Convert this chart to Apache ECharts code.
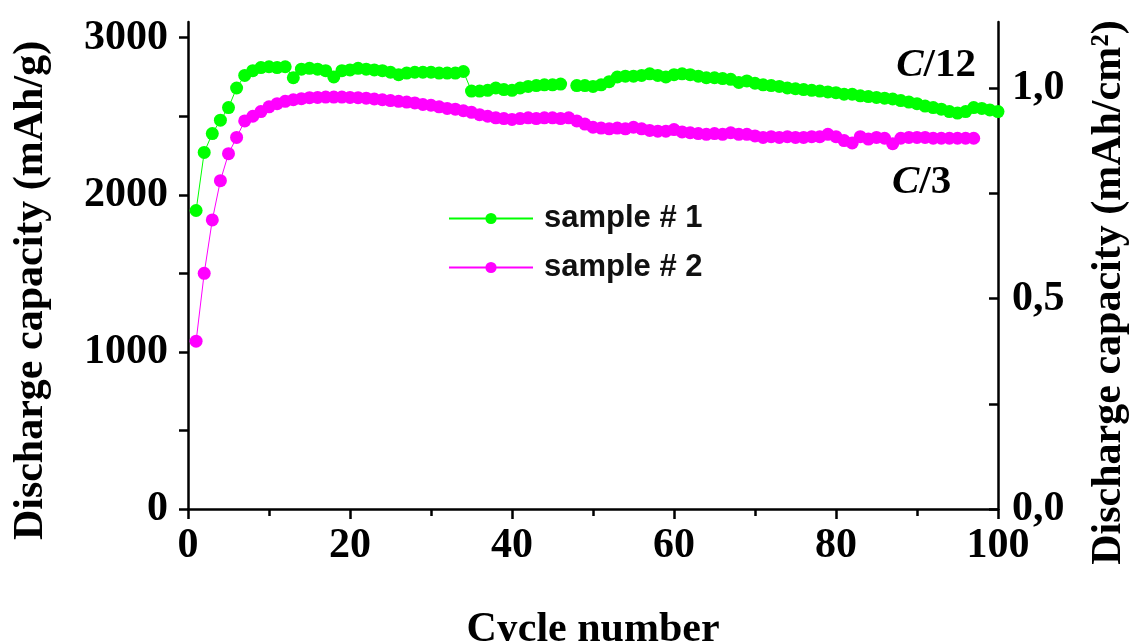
<!DOCTYPE html>
<html>
<head>
<meta charset="utf-8">
<script src="https://cdn.jsdelivr.net/npm/echarts@6/dist/echarts.min.js"></script>
<style>
  html, body { margin: 0; padding: 0; background: #fff; }
  #chart { width: 1129px; height: 641px; }
</style>
</head>
<body>
<div id="chart"></div>
<script>
// cycle numbers
const cycles1 = Array.from({ length: 100 }, (_, i) => i + 1)
const cycles2 = Array.from({ length: 97 }, (_, i) => i + 1)

// sample # 1, discharge capacity (mAh/g), cycle 47 missing
const sample1 = [
  1900, 2270, 2390, 2475, 2555, 2680, 2760, 2790, 2810, 2815,
  2810, 2815, 2745, 2800, 2805, 2800, 2790, 2750, 2790, 2795,
  2805, 2800, 2795, 2790, 2780, 2765, 2775, 2780, 2780, 2780,
  2775, 2775, 2775, 2785, 2660, 2660, 2665, 2680, 2670, 2665,
  2680, 2690, 2695, 2700, 2700, 2705, null, 2695, 2695, 2690,
  2700, 2720, 2750, 2755, 2755, 2760, 2770, 2760, 2750, 2765,
  2770, 2765, 2755, 2745, 2745, 2740, 2735, 2715, 2725, 2710,
  2700, 2695, 2690, 2680, 2675, 2670, 2665, 2660, 2655, 2650,
  2640, 2640, 2630, 2625, 2620, 2615, 2610, 2600, 2590, 2580,
  2565, 2555, 2545, 2530, 2520, 2530, 2555, 2550, 2540, 2530
]

// sample # 2
const sample2 = [
  1068, 1500, 1840, 2090, 2262, 2365, 2470, 2500, 2530, 2560,
  2580, 2595, 2605, 2612, 2618, 2620, 2622, 2622, 2622, 2620,
  2618, 2615, 2610, 2605, 2600, 2595, 2590, 2585, 2575, 2570,
  2560, 2550, 2545, 2535, 2525, 2510, 2500, 2490, 2485, 2480,
  2485, 2490, 2485, 2490, 2490, 2485, 2490, 2470, 2450, 2430,
  2425, 2420, 2425, 2420, 2430, 2420, 2410, 2405, 2405, 2415,
  2400, 2395, 2390, 2385, 2390, 2385, 2395, 2385, 2385, 2375,
  2365, 2370, 2365, 2370, 2365, 2365, 2370, 2370, 2385, 2370,
  2345, 2330, 2370, 2355, 2365, 2360, 2325, 2360, 2365, 2365,
  2365, 2360, 2360, 2360, 2360, 2360, 2360
]

// tick values
const leftTicks = [0, 500, 1000, 1500, 2000, 2500, 3000]
const leftLabels = [0, 1000, 2000, 3000]
const rightTicks = [0, 0.25, 0.5, 0.75, 1.0]
const rightLabels = [0, 0.5, 1.0]

const serif = 'Liberation Serif'
const black = '#000'

const chart = echarts.init(document.getElementById('chart'))

const axisLine = { show: true, lineStyle: { color: black, width: 2.5 } }
const tickLabel = { color: black, fontFamily: serif, fontWeight: 'bold', fontSize: 42 }
const titleStyle = { color: black, fontFamily: serif, fontWeight: 'bold', fontSize: 42 }

chart.setOption({
  animation: false,
  backgroundColor: '#fff',
  grid: { left: 188, right: 131, top: 22, bottom: 132, containLabel: false, outerBoundsMode: 'none' },
  legend: {
    orient: 'vertical',
    left: 443,
    top: 198,
    itemWidth: 84,
    itemHeight: 14,
    itemGap: 18,
    textStyle: { fontFamily: 'Liberation Sans', fontWeight: 'bold', fontSize: 31, color: '#111', padding: [0, 0, 0, 6] },
    data: ['sample # 1', 'sample # 2']
  },
  xAxis: {
    type: 'value',
    min: 0,
    max: 100,
    interval: 20,
    name: 'Cycle number',
    nameLocation: 'middle',
    nameGap: 100,
    nameTextStyle: titleStyle,
    axisLine: axisLine,
    axisTick: { show: true, inside: false, length: 10, lineStyle: { color: black, width: 2.5 } },
    minorTick: { show: true, splitNumber: 2, length: 7, lineStyle: { color: black, width: 2.5 } },
    axisLabel: Object.assign({ margin: 16 }, tickLabel),
    splitLine: { show: false }
  },
  yAxis: [
    {
      type: 'value',
      position: 'left',
      min: 0,
      max: 3100,
      name: 'Discharge capacity (mAh/g)',
      nameLocation: 'middle',
      nameRotate: 90,
      nameGap: 136,
      nameTextStyle: Object.assign({ padding: [0, 50, 0, 0] }, titleStyle),
      axisLine: axisLine,
      axisTick: { show: true, inside: false, length: 9, customValues: leftTicks, lineStyle: { color: black, width: 2.5 } },
      axisLabel: Object.assign({
        margin: 20,
        customValues: leftLabels,
        formatter: v => String(v)
      }, tickLabel),
      splitLine: { show: false }
    },
    {
      type: 'value',
      position: 'right',
      min: 0,
      max: 1.158,
      name: 'Discharge capacity (mAh/cm²)',
      nameLocation: 'middle',
      nameRotate: 90,
      nameGap: 90,
      nameTextStyle: Object.assign({ padding: [0, 54, 0, 0] }, titleStyle),
      axisLine: axisLine,
      axisTick: { show: true, inside: true, length: 9, customValues: rightTicks, lineStyle: { color: black, width: 2.5 } },
      axisLabel: Object.assign({
        margin: 14,
        customValues: rightLabels,
        formatter: v => v.toFixed(1).replace('.', ',')
      }, tickLabel),
      splitLine: { show: false }
    }
  ],
  series: [
    {
      name: 'sample # 1',
      type: 'line',
      yAxisIndex: 0,
      data: cycles1.map((c, i) => [c, sample1[i]]),
      symbol: 'circle',
      symbolSize: 13,
      showAllSymbol: true,
      connectNulls: false,
      itemStyle: { color: '#00ff00' },
      lineStyle: { color: '#00ff00', width: 1 }
    },
    {
      name: 'sample # 2',
      type: 'line',
      yAxisIndex: 0,
      data: cycles2.map((c, i) => [c, sample2[i]]),
      symbol: 'circle',
      symbolSize: 13,
      showAllSymbol: true,
      itemStyle: { color: '#ff00ff' },
      lineStyle: { color: '#ff00ff', width: 1 }
    }
  ],
  graphic: [
    {
      type: 'text',
      right: 1129 - 976,
      top: 45,
      style: {
        text: '{i|C}{n|/12}',
        rich: {
          i: { fontFamily: serif, fontStyle: 'italic', fontWeight: 'bold', fontSize: 41, fill: black },
          n: { fontFamily: serif, fontWeight: 'bold', fontSize: 41, fill: black }
        }
      }
    },
    {
      type: 'text',
      left: 892,
      top: 162,
      style: {
        text: '{i|C}{n|/3}',
        rich: {
          i: { fontFamily: serif, fontStyle: 'italic', fontWeight: 'bold', fontSize: 41, fill: black },
          n: { fontFamily: serif, fontWeight: 'bold', fontSize: 41, fill: black }
        }
      }
    }
  ]
})
</script>
</body>
</html>
